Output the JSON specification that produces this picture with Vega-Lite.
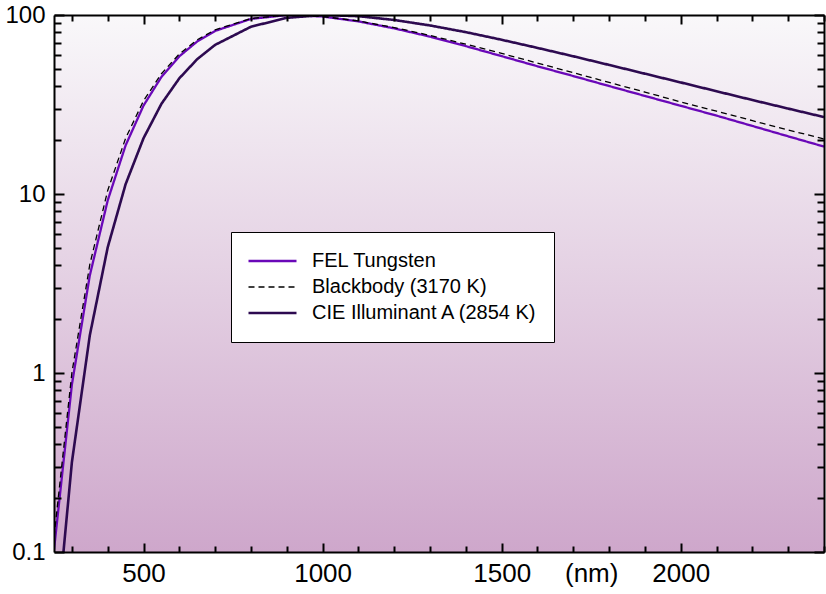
{
  "$schema": "https://vega.github.io/schema/vega-lite/v6.json",
  "width": 770,
  "height": 537,
  "autosize": {"type": "none"},
  "padding": {"left": 54, "top": 15, "right": 2, "bottom": 42},
  "background": "white",
  "config": {
    "view": {"stroke": null},
    "font": "Liberation Sans",
    "axis": {
      "domainColor": "black",
      "domainWidth": 2,
      "tickColor": "black",
      "tickWidth": 2,
      "ticks": true,
      "grid": false,
      "labelColor": "black",
      "labelFont": "Liberation Sans",
      "labelOverlap": false,
      "labelFlush": false,
      "labelBound": false,
      "zindex": 1
    }
  },
  "datasets": {
    "spectra": [
      {"w": 250, "v": 0.103, "s": "FEL Tungsten"},
      {"w": 300, "v": 0.863, "s": "FEL Tungsten"},
      {"w": 350, "v": 3.51, "s": "FEL Tungsten"},
      {"w": 400, "v": 9.21, "s": "FEL Tungsten"},
      {"w": 450, "v": 18.7, "s": "FEL Tungsten"},
      {"w": 500, "v": 31.2, "s": "FEL Tungsten"},
      {"w": 550, "v": 45.1, "s": "FEL Tungsten"},
      {"w": 600, "v": 58.8, "s": "FEL Tungsten"},
      {"w": 650, "v": 71.2, "s": "FEL Tungsten"},
      {"w": 700, "v": 81.5, "s": "FEL Tungsten"},
      {"w": 800, "v": 95.1, "s": "FEL Tungsten"},
      {"w": 900, "v": 99.9, "s": "FEL Tungsten"},
      {"w": 1000, "v": 98.1, "s": "FEL Tungsten"},
      {"w": 1100, "v": 92.1, "s": "FEL Tungsten"},
      {"w": 1200, "v": 84.2, "s": "FEL Tungsten"},
      {"w": 1300, "v": 75.7, "s": "FEL Tungsten"},
      {"w": 1400, "v": 67.0, "s": "FEL Tungsten"},
      {"w": 1500, "v": 58.9, "s": "FEL Tungsten"},
      {"w": 1600, "v": 51.7, "s": "FEL Tungsten"},
      {"w": 1700, "v": 45.6, "s": "FEL Tungsten"},
      {"w": 1800, "v": 40.1, "s": "FEL Tungsten"},
      {"w": 1900, "v": 35.3, "s": "FEL Tungsten"},
      {"w": 2000, "v": 31.1, "s": "FEL Tungsten"},
      {"w": 2100, "v": 27.4, "s": "FEL Tungsten"},
      {"w": 2200, "v": 24.0, "s": "FEL Tungsten"},
      {"w": 2300, "v": 21.0, "s": "FEL Tungsten"},
      {"w": 2400, "v": 18.4, "s": "FEL Tungsten"},
      {"w": 250, "v": 0.0275, "s": "CIE Illuminant A (2854 K)"},
      {"w": 300, "v": 0.318, "s": "CIE Illuminant A (2854 K)"},
      {"w": 350, "v": 1.624, "s": "CIE Illuminant A (2854 K)"},
      {"w": 400, "v": 5.04, "s": "CIE Illuminant A (2854 K)"},
      {"w": 450, "v": 11.35, "s": "CIE Illuminant A (2854 K)"},
      {"w": 500, "v": 20.5, "s": "CIE Illuminant A (2854 K)"},
      {"w": 550, "v": 31.9, "s": "CIE Illuminant A (2854 K)"},
      {"w": 600, "v": 44.3, "s": "CIE Illuminant A (2854 K)"},
      {"w": 650, "v": 56.7, "s": "CIE Illuminant A (2854 K)"},
      {"w": 700, "v": 68.1, "s": "CIE Illuminant A (2854 K)"},
      {"w": 800, "v": 86.0, "s": "CIE Illuminant A (2854 K)"},
      {"w": 900, "v": 96.4, "s": "CIE Illuminant A (2854 K)"},
      {"w": 1000, "v": 100.0, "s": "CIE Illuminant A (2854 K)"},
      {"w": 1100, "v": 98.5, "s": "CIE Illuminant A (2854 K)"},
      {"w": 1200, "v": 93.8, "s": "CIE Illuminant A (2854 K)"},
      {"w": 1300, "v": 87.4, "s": "CIE Illuminant A (2854 K)"},
      {"w": 1400, "v": 80.2, "s": "CIE Illuminant A (2854 K)"},
      {"w": 1500, "v": 72.7, "s": "CIE Illuminant A (2854 K)"},
      {"w": 1600, "v": 65.5, "s": "CIE Illuminant A (2854 K)"},
      {"w": 1700, "v": 58.8, "s": "CIE Illuminant A (2854 K)"},
      {"w": 1800, "v": 52.6, "s": "CIE Illuminant A (2854 K)"},
      {"w": 1900, "v": 47.0, "s": "CIE Illuminant A (2854 K)"},
      {"w": 2000, "v": 42.0, "s": "CIE Illuminant A (2854 K)"},
      {"w": 2100, "v": 37.5, "s": "CIE Illuminant A (2854 K)"},
      {"w": 2200, "v": 33.5, "s": "CIE Illuminant A (2854 K)"},
      {"w": 2300, "v": 30.0, "s": "CIE Illuminant A (2854 K)"},
      {"w": 2400, "v": 26.9, "s": "CIE Illuminant A (2854 K)"},
      {"w": 250, "v": 0.121, "s": "Blackbody (3170 K)"},
      {"w": 300, "v": 1.004, "s": "Blackbody (3170 K)"},
      {"w": 350, "v": 4.04, "s": "Blackbody (3170 K)"},
      {"w": 400, "v": 10.47, "s": "Blackbody (3170 K)"},
      {"w": 450, "v": 20.5, "s": "Blackbody (3170 K)"},
      {"w": 500, "v": 33.2, "s": "Blackbody (3170 K)"},
      {"w": 550, "v": 47.0, "s": "Blackbody (3170 K)"},
      {"w": 600, "v": 60.6, "s": "Blackbody (3170 K)"},
      {"w": 650, "v": 72.7, "s": "Blackbody (3170 K)"},
      {"w": 700, "v": 82.7, "s": "Blackbody (3170 K)"},
      {"w": 800, "v": 95.6, "s": "Blackbody (3170 K)"},
      {"w": 900, "v": 99.9, "s": "Blackbody (3170 K)"},
      {"w": 1000, "v": 98.1, "s": "Blackbody (3170 K)"},
      {"w": 1100, "v": 92.6, "s": "Blackbody (3170 K)"},
      {"w": 1200, "v": 85.1, "s": "Blackbody (3170 K)"},
      {"w": 1300, "v": 76.9, "s": "Blackbody (3170 K)"},
      {"w": 1400, "v": 68.7, "s": "Blackbody (3170 K)"},
      {"w": 1500, "v": 61.0, "s": "Blackbody (3170 K)"},
      {"w": 1600, "v": 53.9, "s": "Blackbody (3170 K)"},
      {"w": 1700, "v": 47.6, "s": "Blackbody (3170 K)"},
      {"w": 1800, "v": 42.0, "s": "Blackbody (3170 K)"},
      {"w": 1900, "v": 37.1, "s": "Blackbody (3170 K)"},
      {"w": 2000, "v": 32.7, "s": "Blackbody (3170 K)"},
      {"w": 2100, "v": 29.0, "s": "Blackbody (3170 K)"},
      {"w": 2200, "v": 25.7, "s": "Blackbody (3170 K)"},
      {"w": 2300, "v": 22.8, "s": "Blackbody (3170 K)"},
      {"w": 2400, "v": 20.3, "s": "Blackbody (3170 K)"}
    ]
  },
  "resolve": {"axis": {"x": "independent", "y": "independent"}},
  "layer": [
    {
      "data": {"values": [{"k": 1}]},
      "mark": {
        "type": "rect",
        "fill": {
          "gradient": "linear",
          "x1": 0, "y1": 0, "x2": 0, "y2": 1,
          "stops": [
            {"offset": 0, "color": "#f9f8fa"},
            {"offset": 1, "color": "#cea7cb"}
          ]
        }
      },
      "encoding": {
        "x": {
          "datum": 250,
          "type": "quantitative",
          "scale": {"type": "linear", "domain": [250, 2400], "nice": false, "zero": false},
          "axis": null
        },
        "x2": {"datum": 2400},
        "y": {
          "datum": 0.1,
          "type": "quantitative",
          "scale": {"type": "log", "domain": [0.1, 100], "nice": false},
          "axis": null
        },
        "y2": {"datum": 100}
      }
    },
    {
      "data": {"name": "spectra"},
      "mark": {"type": "line", "clip": true},
      "encoding": {
        "x": {
          "field": "w",
          "type": "quantitative",
          "scale": {"type": "linear", "domain": [250, 2400], "nice": false, "zero": false},
          "axis": {
            "orient": "bottom",
            "title": null,
            "zindex": 1,
            "ticks": false,
            "domain": false,
            "values": [500, 1000, 1500, 1750, 2000],
            "format": "d",
            "labelExpr": "datum.value == 1750 ? '(nm)' : datum.label",
            "labelPadding": 8,
            "labelFontSize": 26
          }
        },
        "y": {
          "field": "v",
          "type": "quantitative",
          "scale": {"type": "log", "domain": [0.1, 100], "nice": false},
          "axis": {
            "orient": "left",
            "title": null,
            "zindex": 1,
            "ticks": false,
            "domain": false,
            "values": [0.1, 1, 10, 100],
            "labelExpr": "datum.value == 0.1 ? '0.1' : datum.value == 1 ? '1' : datum.value == 10 ? '10' : '100'",
            "labelPadding": 9,
            "labelFontSize": 24
          }
        },
        "color": {
          "field": "s",
          "type": "nominal",
          "scale": {
            "domain": ["FEL Tungsten", "Blackbody (3170 K)", "CIE Illuminant A (2854 K)"],
            "range": ["#6a08b8", "#000000", "#2d0a50"]
          },
          "legend": {
            "orient": "none",
            "legendX": 177,
            "legendY": 217,
            "title": null,
            "symbolType": "stroke",
            "symbolSize": 2304,
            "symbolStrokeWidth": 2,
            "labelFontSize": 20,
            "labelFont": "Liberation Sans",
            "labelColor": "black",
            "labelOffset": 14,
            "labelLimit": 400,
            "clipHeight": 26,
            "fillColor": "white",
            "strokeColor": "black",
            "padding": 16,
            "rowPadding": 0
          }
        },
        "strokeDash": {
          "field": "s",
          "type": "nominal",
          "scale": {
            "domain": ["FEL Tungsten", "Blackbody (3170 K)", "CIE Illuminant A (2854 K)"],
            "range": [[1, 0], [6, 4], [1, 0]]
          },
          "legend": {
            "orient": "none",
            "legendX": 177,
            "legendY": 217,
            "title": null,
            "symbolType": "stroke",
            "symbolSize": 2304,
            "symbolStrokeWidth": 2,
            "labelFontSize": 20,
            "labelFont": "Liberation Sans",
            "labelColor": "black",
            "labelOffset": 14,
            "labelLimit": 400,
            "clipHeight": 26,
            "fillColor": "white",
            "strokeColor": "black",
            "padding": 16,
            "rowPadding": 0
          }
        },
        "strokeWidth": {
          "field": "s",
          "type": "nominal",
          "scale": {
            "type": "ordinal",
            "domain": ["FEL Tungsten", "Blackbody (3170 K)", "CIE Illuminant A (2854 K)"],
            "range": [2.3, 1.3, 2.6]
          },
          "legend": null
        }
      }
    },
    {
      "data": {"name": "spectra"},
      "mark": {"type": "point", "opacity": 0},
      "encoding": {
        "x": {
          "field": "w",
          "type": "quantitative",
          "scale": {"type": "linear", "domain": [250, 2400], "nice": false, "zero": false},
          "axis": {
            "orient": "top",
            "title": null,
            "labels": false,
            "zindex": 1,
            "values": [300, 400, 500, 600, 700, 800, 900, 1000, 1100, 1200, 1300, 1400, 1500, 1600, 1700, 1800, 1900, 2000, 2100, 2200, 2300, 2400],
            "tickSize": {"expr": "datum.value % 500 == 0 ? -9 : -6"}
          }
        },
        "y": {
          "field": "v",
          "type": "quantitative",
          "scale": {"type": "log", "domain": [0.1, 100], "nice": false},
          "axis": {
            "orient": "right",
            "title": null,
            "labels": false,
            "zindex": 1,
            "values": [0.1, 0.2, 0.3, 0.4, 0.5, 0.6, 0.7, 0.8, 0.9, 1, 2, 3, 4, 5, 6, 7, 8, 9, 10, 20, 30, 40, 50, 60, 70, 80, 90, 100],
            "tickSize": {"expr": "datum.value == 0.1 || datum.value == 1 || datum.value == 10 || datum.value == 100 ? -10 : -7"}
          }
        }
      }
    },
    {
      "data": {"name": "spectra"},
      "mark": {"type": "point", "opacity": 0},
      "encoding": {
        "x": {
          "field": "w",
          "type": "quantitative",
          "scale": {"type": "linear", "domain": [250, 2400], "nice": false, "zero": false},
          "axis": {
            "orient": "bottom",
            "title": null,
            "labels": false,
            "zindex": 1,
            "values": [300, 400, 500, 600, 700, 800, 900, 1000, 1100, 1200, 1300, 1400, 1500, 1600, 1700, 1800, 1900, 2000, 2100, 2200, 2300, 2400],
            "tickSize": {"expr": "datum.value % 500 == 0 ? -9 : -6"}
          }
        },
        "y": {
          "field": "v",
          "type": "quantitative",
          "scale": {"type": "log", "domain": [0.1, 100], "nice": false},
          "axis": {
            "orient": "left",
            "title": null,
            "labels": false,
            "zindex": 1,
            "values": [0.1, 0.2, 0.3, 0.4, 0.5, 0.6, 0.7, 0.8, 0.9, 1, 2, 3, 4, 5, 6, 7, 8, 9, 10, 20, 30, 40, 50, 60, 70, 80, 90, 100],
            "tickSize": {"expr": "datum.value == 0.1 || datum.value == 1 || datum.value == 10 || datum.value == 100 ? -10 : -7"}
          }
        }
      }
    }
  ]
}
